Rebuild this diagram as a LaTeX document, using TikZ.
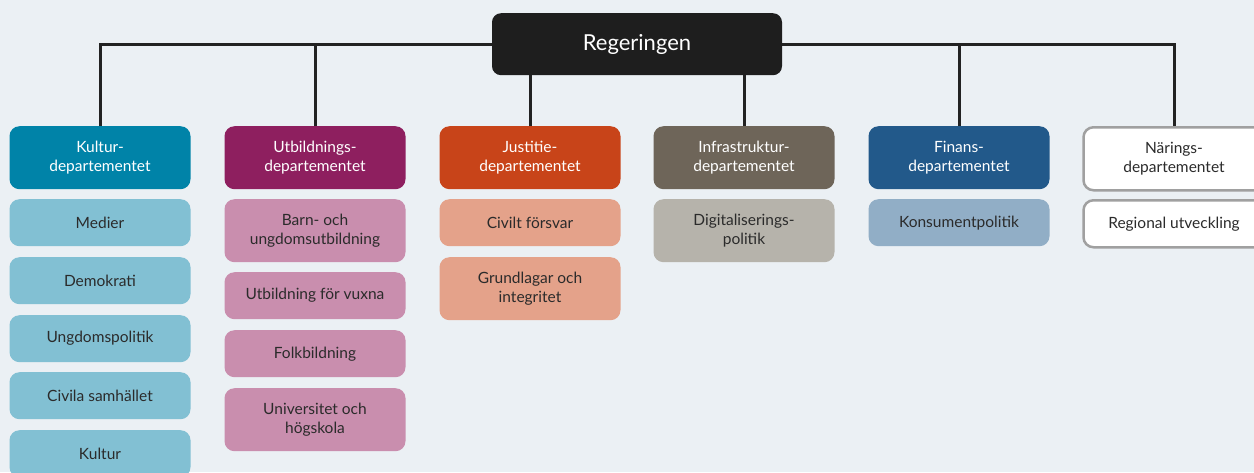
\documentclass[tikz,border=0pt]{standalone}
\usepackage{fontspec}
\setmainfont{Lato}
\definecolor{bg}{HTML}{EBF0F4}
\definecolor{line}{HTML}{222222}
\definecolor{regC}{HTML}{1E1E1E}
\definecolor{kulD}{HTML}{0083A8}
\definecolor{kulS}{HTML}{82C0D3}
\definecolor{utbD}{HTML}{8E1F5F}
\definecolor{utbS}{HTML}{C98EAE}
\definecolor{jusD}{HTML}{C84419}
\definecolor{jusS}{HTML}{E4A28A}
\definecolor{infD}{HTML}{6E6559}
\definecolor{infS}{HTML}{B6B3AB}
\definecolor{finD}{HTML}{22598A}
\definecolor{finS}{HTML}{91AEC6}
\definecolor{narB}{HTML}{A0A0A0}
\definecolor{subT}{HTML}{2B2B2B}
\tikzset{
  box/.style={rounded corners=10pt, minimum width=181pt, inner sep=0pt, align=center, anchor=north, font=\fontsize{15.5}{19.5}\selectfont},
  deptbox/.style={box, minimum height=63pt, text=white},
  subone/.style={box, minimum height=47pt, text=subT},
  subtwo/.style={box, minimum height=63pt, text=subT},
  conn/.style={draw=line, line width=3pt},
}
\begin{document}
\begin{tikzpicture}[x=1pt,y=-1pt]
\fill[bg] (0,0) rectangle (1254,472);
\useasboundingbox (0,0) rectangle (1254,472);
% top
\node[box, fill=regC, text=white, minimum width=290pt, minimum height=62pt, font=\fontsize{22}{26}\selectfont, rounded corners=9pt] (reg) at (637,13) {Regeringen};
% departments
\node[deptbox, fill=kulD] (kul) at (100,126) {Kultur-\\departementet};
\node[deptbox, fill=utbD] (utb) at (315,126) {Utbildnings-\\departementet};
\node[deptbox, fill=jusD] (jus) at (530,126) {Justitie-\\departementet};
\node[deptbox, fill=infD] (inf) at (744,126) {Infrastruktur-\\departementet};
\node[deptbox, fill=finD] (fin) at (959,126) {Finans-\\departementet};
\node[deptbox, fill=white, draw=narB, line width=2.5pt, text=subT] (nar) at (1174,126) {Närings-\\departementet};
% connectors
\draw[conn] (reg.west) -| (kul.north);
\draw[conn] (utb.north) -- (utb.north |- reg.west);
\draw[conn] (jus.north) -- (jus.north |- reg.south);
\draw[conn] (inf.north) -- (inf.north |- reg.south);
\draw[conn] (reg.east) -| (nar.north);
\draw[conn] (fin.north) -- (fin.north |- reg.east);
% Kultur
\node[subone, fill=kulS] (k1) at (100,199) {Medier};
\node[subone, fill=kulS] (k2) at (100,257) {Demokrati};
\node[subone, fill=kulS] (k3) at (100,315) {Ungdomspolitik};
\node[subone, fill=kulS] (k4) at (100,372) {Civila samhället};
\node[subone, fill=kulS] (k5) at (100,430) {Kultur};
% Utbildning
\node[subtwo, fill=utbS] (u1) at (315,199) {Barn- och\\ungdomsutbildning};
\node[subone, fill=utbS] (u2) at (315,272) {Utbildning för vuxna};
\node[subone, fill=utbS] (u3) at (315,330) {Folkbildning};
\node[subtwo, fill=utbS] (u4) at (315,388) {Universitet och\\högskola};
% Justitie
\node[subone, fill=jusS] (j1) at (530,199) {Civilt försvar};
\node[subtwo, fill=jusS] (j2) at (530,257) {Grundlagar och\\integritet};
% Infrastruktur
\node[subtwo, fill=infS] (i1) at (744,199) {Digitaliserings-\\politik};
% Finans
\node[subone, fill=finS] (f1) at (959,199) {Konsumentpolitik};
% Närings
\node[subone, fill=white, draw=narB, line width=2.5pt] (n1) at (1174,199) {Regional utveckling};
\end{tikzpicture}
\end{document}
